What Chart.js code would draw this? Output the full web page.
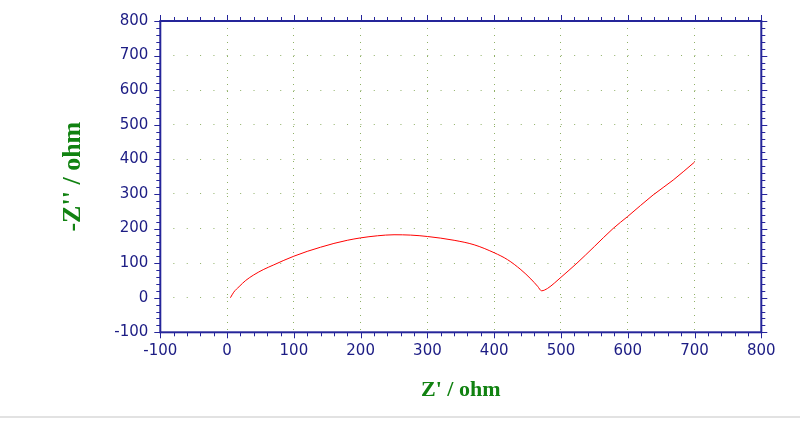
<!DOCTYPE html>
<html lang="en">
    <head>
        <meta charset="UTF-8" />
        <title>Impedance Plot</title>
        <script src="https://cdn.jsdelivr.net/npm/chart.js"></script>
        <style>
            body {
                margin: 0;
                background: #ffffff;
            }
            .chart-container {
                position: relative;
                width: 800px;
                height: 423px;
            }
            .page-rule {
                position: absolute;
                left: 0;
                top: 416px;
                width: 800px;
                height: 2px;
                background: #e2e2e2;
            }
        </style>
    </head>
    <body>
        <div class="chart-container">
            <canvas id="nyquistChart" width="800" height="423"></canvas>
            <div class="page-rule"></div>
        </div>

        <script>
            // values
            const zReal = [
                5, 10, 18, 28, 40, 55, 70, 85, 100, 120, 140, 160, 180, 200,
                225, 250, 275, 300, 340, 370, 400, 420, 440, 455, 465, 471,
                480, 490, 500, 524, 550, 578, 600, 638, 668, 700,
            ];
            const zImag = [
                0, 16, 32, 50, 66, 82, 95, 108, 120, 134, 146, 157, 166, 173,
                179, 182, 181, 177, 166, 153, 130, 110, 81, 54, 33, 20, 27,
                42, 59, 100, 148, 200, 235, 297, 340, 392,
            ];
            const axisMin = -100;
            const axisMax = 800;
            const majorStep = 100;
            const minorStep = 20;

            const navy = "#25259a";
            const labelColor = "#1c1c84";
            const titleColor = "#118211";
            const gridColor = "#8fb066";

            const points = zReal.map((x, i) => ({ x: x, y: zImag[i] }));

            // frame with major/minor ticks on all four sides
            const framePlugin = {
                id: "frame",
                afterDraw(chart) {
                    const ctx = chart.ctx;
                    const area = chart.chartArea;
                    const xs = chart.scales.x;
                    const ys = chart.scales.y;
                    ctx.save();
                    ctx.strokeStyle = navy;
                    ctx.lineWidth = 1;
                    ctx.beginPath();
                    for (let v = axisMin; v <= axisMax; v += minorStep) {
                        const len = v % majorStep === 0 ? 6 : 4;
                        const px = Math.round(xs.getPixelForValue(v)) + 0.5;
                        const py = Math.round(ys.getPixelForValue(v)) + 0.5;
                        ctx.moveTo(px, area.top);
                        ctx.lineTo(px, area.top - len);
                        ctx.moveTo(px, area.bottom);
                        ctx.lineTo(px, area.bottom + len);
                        ctx.moveTo(area.left, py);
                        ctx.lineTo(area.left - len, py);
                        ctx.moveTo(area.right, py);
                        ctx.lineTo(area.right + len, py);
                    }
                    ctx.stroke();
                    ctx.lineWidth = 2;
                    ctx.strokeRect(
                        area.left,
                        area.top,
                        area.right - area.left,
                        area.bottom - area.top
                    );
                    ctx.restore();
                },
            };

            function gridAt(c) {
                const v = c.tick ? c.tick.value : null;
                if (v === axisMin || v === axisMax) {
                    return "rgba(0,0,0,0)";
                }
                return gridColor;
            }

            const ctx = document.getElementById("nyquistChart").getContext("2d");
            new Chart(ctx, {
                type: "line",
                data: {
                    datasets: [
                        {
                            data: points,
                            borderColor: "#ff0000",
                            borderWidth: 1,
                            pointRadius: 0,
                            cubicInterpolationMode: "monotone",
                            fill: false,
                        },
                    ],
                },
                options: {
                    responsive: false,
                    animation: false,
                    layout: {
                        padding: { top: 17.3, right: 38.7, bottom: 0, left: 0 },
                    },
                    plugins: {
                        legend: { display: false },
                        tooltip: { enabled: false },
                    },
                    scales: {
                        x: {
                            type: "linear",
                            min: axisMin,
                            max: axisMax,
                            afterFit(scale) {
                                scale.height = 90.7;
                            },
                            ticks: {
                                stepSize: majorStep,
                                color: labelColor,
                                padding: 10,
                                maxRotation: 0,
                                font: { family: "DejaVu Sans", size: 15 },
                            },
                            grid: {
                                color: gridAt,
                                lineWidth: 1,
                                drawTicks: false,
                            },
                            border: { display: false, dash: [1, 6] },
                            title: {
                                display: true,
                                text: "Z' / ohm",
                                color: titleColor,
                                padding: { top: 0, bottom: 19.8 },
                                font: {
                                    family: "Liberation Serif",
                                    size: 22,
                                    weight: "bold",
                                },
                            },
                        },
                        y: {
                            type: "linear",
                            min: axisMin,
                            max: axisMax,
                            afterFit(scale) {
                                scale.width = 160.3;
                            },
                            ticks: {
                                stepSize: majorStep,
                                color: labelColor,
                                padding: 12,
                                font: { family: "DejaVu Sans", size: 15 },
                            },
                            grid: {
                                color: gridAt,
                                lineWidth: 1,
                                drawTicks: false,
                            },
                            border: { display: false, dash: [1, 12.36] },
                            title: {
                                display: true,
                                text: "-Z'' / ohm",
                                color: titleColor,
                                padding: { top: 58, bottom: 0 },
                                font: {
                                    family: "Liberation Serif",
                                    size: 26,
                                    weight: "bold",
                                },
                            },
                        },
                    },
                },
                plugins: [framePlugin],
            });
        </script>
    </body>
</html>
